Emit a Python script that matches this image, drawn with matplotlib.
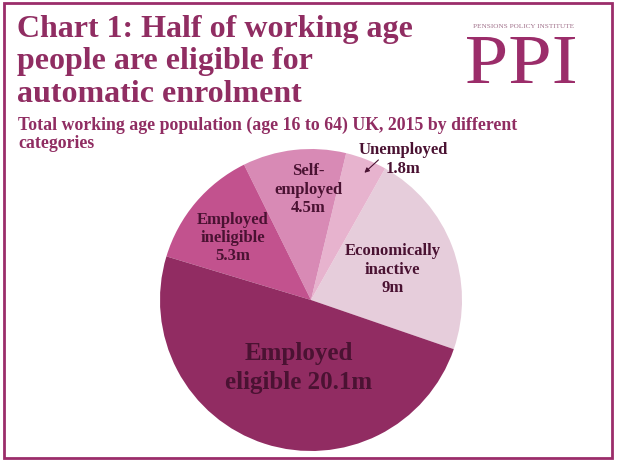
import matplotlib
matplotlib.use("Agg")
import matplotlib.pyplot as plt
from matplotlib.patches import Rectangle, PathPatch
from matplotlib.textpath import TextPath
from matplotlib.font_manager import FontProperties
from matplotlib.transforms import Affine2D

categories = ["Economically inactive", "Unemployed", "Self-employed",
              "Employed ineligible", "Employed eligible"]
values = [9.0, 1.8, 4.5, 5.3, 20.1]
colors = ["#e6cddb", "#e7b3ce", "#d88ab5", "#c2528e", "#912c62"]

title_lines = ["Chart 1: Half of working age", "people are eligible for",
               "automatic enrolment"]
subtitle_lines = ["Total working age population (age 16 to 64) UK, 2015 by different",
                  "categories"]

W, H = 617, 462
purple = "#902d62"
dark = "#4a1232"
serif = ["Liberation Serif", "DejaVu Serif"]


def px(x, y):
    return x / W, 1 - y / H


fig = plt.figure(figsize=(W / 100, H / 100), dpi=100)
fig.patches.append(Rectangle(px(4, 458), 608 / W, 455 / H, transform=fig.transFigure,
                             fill=False, edgecolor="#9b2d6a", linewidth=2))

for line, y in zip(title_lines, [37, 69, 102]):
    fig.text(*px(17, y), line, fontsize=23, fontweight="bold", color=purple,
             family=serif, va="baseline", ha="left")
for line, y in zip(subtitle_lines, [130, 148]):
    fig.text(*px(18, y), line, fontsize=12.8, fontweight="bold", color=purple,
             family=serif, va="baseline", ha="left")

# logo
fig.text(*px(524, 26), "PENSIONS POLICY INSTITUTE", fontsize=5.2, color="#a0708a",
         family=serif, ha="center", va="center")
tp = TextPath((0, 0), "PPI", size=50, prop=FontProperties(family="Liberation Serif"))
bb = tp.get_extents()
x0, x1, ytop, ybase = 467, 575, 37, 83
sx = (x1 - x0) / bb.width
sy = (ybase - ytop) / bb.y1
tr = (Affine2D().translate(-bb.x0, 0).scale(sx, sy).translate(x0, H - ybase)
      .scale(1 / W, 1 / H) + fig.transFigure)
fig.patches.append(PathPatch(tp, transform=tr, facecolor="#9b2d6a", edgecolor="none"))

cx, cy, r = 311, 300, 151
ax = fig.add_axes([(cx - r) / W, (H - cy - r) / H, 2 * r / W, 2 * r / H])
ax.pie(values, colors=colors, startangle=-19, counterclock=True, radius=1,
       wedgeprops=dict(linewidth=0))
ax.set_xlim(-1, 1)
ax.set_ylim(-1, 1)
ax.set_aspect("equal")
ax.set_axis_off()

lab = dict(fontsize=12, fontweight="bold", color=dark, family=serif,
           ha="center", va="center", linespacing=1.2)
ax.text(-0.02, 0.73, "Self-\nemployed\n4.5m", **lab)
ax.text(-0.52, 0.41, "Employed\nineligible\n5.3m", **lab)
ax.text(0.54, 0.20, "Economically\ninactive\n9m", **lab)
ax.text(0.61, 0.93, "Unemployed\n1.8m", **lab)
ax.annotate("", xy=(0.34, 0.83), xytext=(0.46, 0.94),
            arrowprops=dict(arrowstyle="-|>", color=dark, lw=0.8, mutation_scale=7))
ax.text(-0.08, -0.45, "Employed\neligible 20.1m", fontsize=18, fontweight="bold",
        color=dark, family=serif, ha="center", va="center", linespacing=1.3)

fig.savefig("out.png", dpi=100)
